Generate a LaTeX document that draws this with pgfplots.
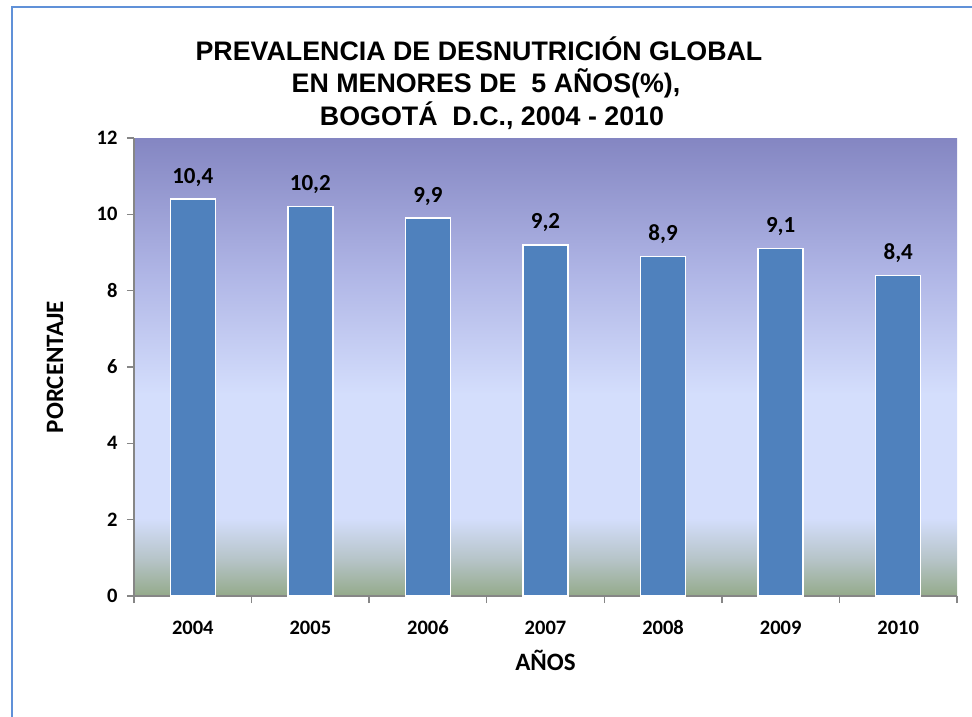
\documentclass[border=0pt]{standalone}
\usepackage{pgfplots}
\pgfplotsset{compat=1.18}
\usepackage{fontspec}
\setmainfont{Carlito}
\newfontfamily\arial{Liberation Sans}

\definecolor{barblue}{RGB}{79,129,189}
\definecolor{axgray}{RGB}{134,134,134}
\definecolor{frameblue}{RGB}{96,145,216}
\definecolor{bgA}{RGB}{148,170,138}
\definecolor{bgB}{RGB}{182,196,200}
\definecolor{bgC}{RGB}{212,222,252}
\definecolor{bgD}{RGB}{176,182,230}
\definecolor{bgE}{RGB}{132,134,194}
\pgfdeclareverticalshading{plotbg}{100bp}{%
  color(0bp)=(bgA); color(25bp)=(bgA); color(29bp)=(bgB); color(33.5bp)=(bgC);
  color(47bp)=(bgC); color(60bp)=(bgD); color(75bp)=(bgE); color(100bp)=(bgE)}

\pgfplotstableread{
x year value
0 2004 10.4
1 2005 10.2
2 2006 9.9
3 2007 9.2
4 2008 8.9
5 2009 9.1
6 2010 8.4
}\prevdata

\begin{document}
\begin{tikzpicture}
\useasboundingbox (0pt,-717pt) rectangle (972pt,0pt);
\draw[frameblue, line width=2pt] (12pt,-730pt) -- (12pt,-7pt) -- (985pt,-7pt);

\node[anchor=base, font=\arial\bfseries\fontsize{26.8}{30}\selectfont] at (479pt,-60pt) {PREVALENCIA DE DESNUTRICIÓN GLOBAL};
\node[anchor=base, font=\arial\bfseries\fontsize{26.8}{30}\selectfont] at (486pt,-92.5pt) {EN MENORES DE\ \ 5 AÑOS(\%),};
\node[anchor=base, font=\arial\bfseries\fontsize{26.8}{30}\selectfont] at (492pt,-125pt) {BOGOTÁ\ \ D.C., 2004 - 2010};

\begin{axis}[
  at={(134pt,-596pt)}, anchor=south west,
  scale only axis, width=823pt, height=458pt,
  ybar, bar width=45pt,
  xmin=-0.5, xmax=6.5, ymin=0, ymax=12,
  xtick=data, xticklabels from table={\prevdata}{year},
  ytick={0,2,...,12},
  minor xtick={-0.5,0.5,...,6.5},
  axis x line*=bottom, axis y line*=left,
  axis line style={axgray, line width=1.5pt, -},
  tick align=outside,
  major x tick style={draw=none},
  minor tick length=7pt, major tick length=7pt,
  every tick/.style={axgray, line width=1.5pt},
  minor x tick style={axgray, line width=1.5pt},
  tick label style={font=\bfseries\fontsize{20.5}{24}\selectfont, text=black},
  /pgf/number format/assume math mode=true,
  /pgf/number format/use comma,
  /pgf/number format/fixed,
  /pgf/number format/precision=1,
  yticklabel style={xshift=-6pt},
  xticklabel style={anchor=base, yshift=-31pt},
  axis background/.style={shade, shading=plotbg},
  ylabel={PORCENTAJE}, xlabel={AÑOS},
  label style={font=\bfseries\fontsize{25}{28}\selectfont},
  ylabel style={at={(axis description cs:-0.096,0.5)}, anchor=center},
  xlabel style={at={(axis description cs:0.5,0)}, anchor=center, yshift=-64pt},
  nodes near coords,
  every node near coord/.append style={font=\bfseries\fontsize{23}{26}\selectfont, anchor=base, yshift=16pt},
  clip=false,
]
\addplot[fill=barblue, draw=white, line width=1.5pt] table[x=x, y=value] {\prevdata};
\end{axis}
\end{tikzpicture}
\end{document}
